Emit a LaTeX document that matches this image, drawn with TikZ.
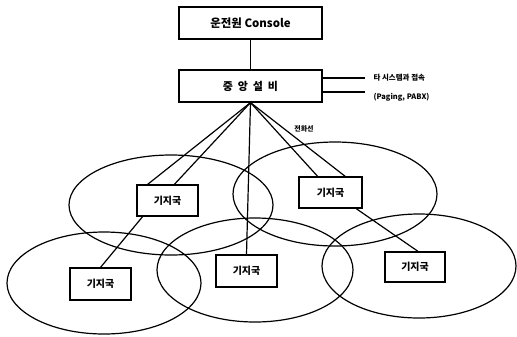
\documentclass[tikz,border=0pt]{standalone}
\usepackage{fontspec}
\setmainfont{Noto Sans CJK KR}
\usetikzlibrary{calc}

\tikzset{
    boxnode/.style={draw, line width=1.2bp, rectangle, inner sep=0pt, font=\bfseries\fontsize{10}{12}\selectfont},
    wire/.style={line width=1.2bp},
    cell/.style={line width=1.2bp}
}

\begin{document}
\begin{tikzpicture}[x=1bp, y=-1bp]
\useasboundingbox (0,0) rectangle (517,336);

% Service areas of the base stations
\draw[cell] (171,205) ellipse [x radius=102bp, y radius=50bp]; % upper left
\draw[cell] (335,194) ellipse [x radius=102bp, y radius=52bp]; % upper right
\draw[cell] (104,283) ellipse [x radius=97bp, y radius=51bp];  % lower left
\draw[cell] (255,270) ellipse [x radius=98bp, y radius=52bp];  % lower centre
\draw[cell] (419,266) ellipse [x radius=97bp, y radius=52bp];  % lower right

% Console and central equipment
\node[boxnode, minimum width=143bp, minimum height=32bp, font=\bfseries\fontsize{11.5}{13}\selectfont] (console) at (250.5,23) {운전원 Console};
\node[boxnode, minimum width=143bp, minimum height=32bp, font=\bfseries\fontsize{11}{13}\selectfont] (central) at (250.5,86) {중\hspace{0.45em}앙\hspace{0.45em}설\hspace{0.45em}비};

% Base stations
\node[boxnode, minimum width=61bp, minimum height=31bp] (bsUL) at (167.5,200.5) {기지국};
\node[boxnode, minimum width=63bp, minimum height=31bp] (bsUR) at (330.5,192.5) {기지국};
\node[boxnode, minimum width=61bp, minimum height=32bp] (bsC) at (246.5,271) {기지국};
\node[boxnode, minimum width=61bp, minimum height=32bp] (bsLL) at (100.5,284) {기지국};
\node[boxnode, minimum width=60bp, minimum height=30bp] (bsLR) at (415,267) {기지국};

% Links to other systems
\coordinate (extA) at (365,78);
\coordinate (extB) at (365,92);
\draw[wire] (central.east |- extA) -- (extA);
\draw[wire] (central.east |- extB) -- (extB);
\node[anchor=west, font=\bfseries\fontsize{7.5}{9}\selectfont] (exttext) at (370,78) {타 시스템과 접속};
\node[anchor=west, font=\bfseries\fontsize{7.5}{9}\selectfont] (extsub) at (370,97) {(Paging, PABX)};

% Telephone lines
\draw[wire] (console.south) -- (central.north);
\draw[wire] (central.south) -- ($(bsUL.north west)!0.18!(bsUL.north east)$);
\draw[wire] (central.south) -- ($(bsUL.north west)!0.61!(bsUL.north east)$);
\draw[wire] (central.south) -- ($(bsUR.north west)!0.30!(bsUR.north east)$);
\draw[wire] (central.south) -- ($(bsUR.north west)!0.73!(bsUR.north east)$);
\draw[wire] (central.south) -- (bsC.north);
\draw[wire] ($(bsUL.south west)!0.10!(bsUL.south east)$) -- (bsLL.north);
\draw[wire] ($(bsUR.south west)!0.90!(bsUR.south east)$) -- ($(bsLR.north west)!0.55!(bsLR.north east)$);
\node[font=\bfseries\fontsize{7}{8}\selectfont] (linelabel) at (304,129) {전화선};

\end{tikzpicture}
\end{document}
